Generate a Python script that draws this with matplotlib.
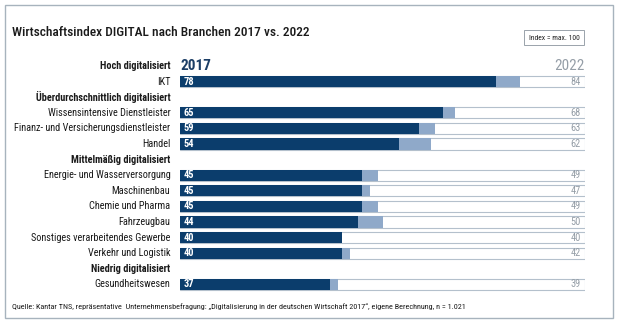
import matplotlib.pyplot as plt
from matplotlib.patches import Rectangle
from matplotlib import font_manager

# data
groups = ["Hoch digitalisiert", "Überdurchschnittlich digitalisiert",
          "Mittelmäßig digitalisiert", "Niedrig digitalisiert"]
branchen = [
    ["IKT"],
    ["Wissensintensive Dienstleister", "Finanz- und Versicherungsdienstleister", "Handel"],
    ["Energie- und Wasserversorgung", "Maschinenbau", "Chemie und Pharma", "Fahrzeugbau",
     "Sonstiges verarbeitendes Gewerbe", "Verkehr und Logistik"],
    ["Gesundheitswesen"],
]
werte_2017 = [[78], [65, 59, 54], [45, 45, 45, 44, 40, 40], [37]]
werte_2022 = [[84], [68, 63, 62], [49, 47, 49, 50, 40, 42], [39]]

dark = "#0b3d6c"
light = "#8fa9c9"
edge = "#b4c0cc"
grey = "#959ea7"
ink = "#1a1a1a"

# narrow face if available, else condensed DejaVu a bit smaller
names = {f.name for f in font_manager.fontManager.ttflist}
if "Roboto Condensed" in names:
    plt.rcParams["font.family"] = ["Roboto Condensed", "DejaVu Sans"]
    k = 1.0
else:
    plt.rcParams["font.family"] = ["DejaVu Sans"]
    plt.rcParams["font.stretch"] = "condensed"
    k = 0.85

W, H = 620, 324
fig = plt.figure(figsize=(W / 100, H / 100), dpi=100)

# outer frame
fig.patches.append(Rectangle((5 / W, 6 / H), 608 / W, 313 / H, transform=fig.transFigure,
                             fill=False, edgecolor="#a7b3bd", lw=1.0))

n_rows = sum(len(b) + 1 for b in branchen)
row_h = 15.6
top = 66 - row_h / 2
ax = fig.add_axes([180 / W, 1 - (top + n_rows * row_h) / H, 405 / W, n_rows * row_h / H])
ax.set_xlim(0, 100)
ax.set_ylim(n_rows - 0.5, -0.5)
ax.axis("off")

bh = 0.72
row = 0
for gi, g in enumerate(groups):
    ax.text(-2.4, row, g, ha="right", va="center", fontsize=7.4 * k, fontweight="bold", color=ink)
    if gi == 0:
        ax.text(0.2, row, "2017", ha="left", va="center", fontsize=11 * k, fontweight="bold", color="#1c3e66")
        ax.text(100, row, "2022", ha="right", va="center", fontsize=11 * k, color=grey)
    row += 1
    for name, v17, v22 in zip(branchen[gi], werte_2017[gi], werte_2022[gi]):
        ax.barh(row, 100, height=bh, color="white", edgecolor=edge, lw=0.8)
        ax.barh(row, v22, height=bh, color=light)
        ax.barh(row, v17, height=bh, color=dark)
        ax.text(-2.4, row, name, ha="right", va="center", fontsize=7.4 * k, color=ink)
        ax.text(0.9, row, str(v17), ha="left", va="center", fontsize=7.5 * k, fontweight="bold", color="white")
        ax.text(99, row, str(v22), ha="right", va="center", fontsize=7.5 * k, color=grey)
        row += 1

fig.text(12 / W, 1 - 33 / H, "Wirtschaftsindex DIGITAL nach Branchen 2017 vs. 2022",
         ha="left", va="center", fontsize=9.6 * k, fontweight="medium", color=ink)
fig.text(554 / W, 1 - 37.5 / H, "Index = max. 100", ha="center", va="center", fontsize=5.5 * k,
         color="#222222",
         bbox=dict(boxstyle="square,pad=0.6", fc="white", ec="#9aa3ab", lw=0.7))
fig.text(12 / W, 1 - 307 / H,
         "Quelle: Kantar TNS, repräsentative  Unternehmensbefragung: „Digitalisierung in der deutschen "
         "Wirtschaft 2017“, eigene Berechnung, n = 1.021",
         ha="left", va="center", fontsize=5.9 * k, color=ink)

fig.savefig("out.png", dpi=100)
